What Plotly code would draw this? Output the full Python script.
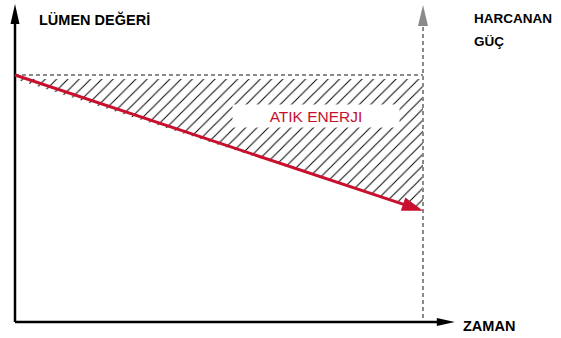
import math
import plotly.graph_objects as go

# ---- data ----
time = [0, 10]                 # start / end of life (ZAMAN)
lumen_actual = [100, 45]       # actual lumen (declining)
lumen_constant = [100, 100]    # constant power level
x_axis_end = 10.78             # x axis arrow tip
y_axis_end = 128.7             # y axis arrow tip

labels = {
    "y": "LÜMEN DEĞERİ",
    "y2a": "HARCANAN",
    "y2b": "GÜÇ",
    "x": "ZAMAN",
    "area": "ATIK ENERJI",
}

W, H = 561, 338
X0PX, XSCALE = 15, 40.8
Y0PX, YSCALE = 322, 2.47
xr = [(0 - X0PX) / XSCALE, (W - X0PX) / XSCALE]
yr = [(Y0PX - H) / YSCALE, Y0PX / YSCALE]

RED = "#c8102e"
GREY = "#8a8a8a"
FONT = "Liberation Sans, Arial, sans-serif"

fig = go.Figure()

# hatched wasted-energy area (kept a few pixels below the dashed level)
gap = 4 / YSCALE
fig.add_trace(go.Scatter(
    x=[time[0], time[1], time[1], time[0]],
    y=[lumen_constant[0] - gap, lumen_constant[1] - gap, lumen_actual[1], lumen_actual[0] - gap],
    fill="toself", mode="none", fillcolor="rgba(0,0,0,0)",
    fillpattern=dict(shape="/", size=8, solidity=0.12, fgcolor="#000",
                     fgopacity=1, bgcolor="rgba(0,0,0,0)"),
    hoverinfo="skip", showlegend=False))

# dashed constant level
fig.add_trace(go.Scatter(x=time, y=lumen_constant, mode="lines",
                         line=dict(color=GREY, width=2, dash="4px,3px"),
                         hoverinfo="skip", showlegend=False))

# grey dashed vertical (power axis)
fig.add_trace(go.Scatter(x=[time[1], time[1]], y=[1.6, y_axis_end - 8.5], mode="lines",
                         line=dict(color=GREY, width=2, dash="4px,3px"),
                         hoverinfo="skip", showlegend=False))

# black axes
fig.add_trace(go.Scatter(x=[0, 0], y=[0, y_axis_end - 6], mode="lines",
                         line=dict(color="black", width=2.5),
                         hoverinfo="skip", showlegend=False))
fig.add_trace(go.Scatter(x=[0, x_axis_end - 0.35], y=[0, 0], mode="lines",
                         line=dict(color="black", width=2.5),
                         hoverinfo="skip", showlegend=False))

# red declining lumen line (shortened so the head ends on the tip)
dxp = (time[1] - time[0]) * XSCALE
dyp = (lumen_actual[0] - lumen_actual[1]) * YSCALE
L = math.hypot(dxp, dyp)
ux, uy = dxp / L, dyp / L  # screen direction (uy positive = downward)
back = 14
fig.add_trace(go.Scatter(
    x=[time[0], time[1] - back * ux / XSCALE],
    y=[lumen_actual[0], lumen_actual[1] + back * uy / YSCALE],
    mode="lines", line=dict(color=RED, width=3),
    hoverinfo="skip", showlegend=False))


def head(xa, ya, dirx, diry, length, half, color):
    """Arrowhead path in pixels relative to tip; dir in screen coords (y up)."""
    bx, by = -dirx * length, -diry * length
    px, py = -diry * half, dirx * half
    path = f"M0,0 L{bx + px:.2f},{by + py:.2f} L{bx - px:.2f},{by - py:.2f} Z"
    return dict(type="path", xref="x", yref="y", xsizemode="pixel", ysizemode="pixel",
                xanchor=xa, yanchor=ya, path=path, fillcolor=color,
                line=dict(width=0), layer="above")


shapes = [
    head(0, y_axis_end, 0, 1, 20, 4.5, "black"),
    head(time[1], y_axis_end - 0.4, 0, 1, 21, 5, GREY),
    head(x_axis_end, 0, 1, 0, 18, 4, "black"),
    head(time[1], lumen_actual[1], ux, -uy, 21, 7, RED),
]

ann = [
    dict(x=37 / W, y=1 - 20 / H, xref="paper", yref="paper", text=labels["y"],
         showarrow=False, xanchor="left", yanchor="middle",
         font=dict(family=FONT, size=14.5, color="black", weight="bold")),
    dict(x=472 / W, y=1 - 19 / H, xref="paper", yref="paper", text=labels["y2a"],
         showarrow=False, xanchor="left", yanchor="middle",
         font=dict(family=FONT, size=13.5, color="black", weight="bold")),
    dict(x=472 / W, y=1 - 42 / H, xref="paper", yref="paper", text=labels["y2b"],
         showarrow=False, xanchor="left", yanchor="middle",
         font=dict(family=FONT, size=13.5, color="black", weight="bold")),
    dict(x=461 / W, y=1 - 326 / H, xref="paper", yref="paper", text=labels["x"],
         showarrow=False, xanchor="left", yanchor="middle",
         font=dict(family=FONT, size=14.5, color="black", weight="bold")),
    dict(x=316 / W, y=1 - 116 / H, xref="paper", yref="paper", text=labels["area"],
         showarrow=False, xanchor="center", yanchor="middle",
         width=160, height=16, bgcolor="white", borderpad=3,
         font=dict(family=FONT, size=15.5, color=RED)),
]

fig.update_layout(
    width=W, height=H, margin=dict(l=0, r=0, t=0, b=0),
    paper_bgcolor="white", plot_bgcolor="white",
    xaxis=dict(range=xr, visible=False, fixedrange=True),
    yaxis=dict(range=yr, visible=False, fixedrange=True),
    shapes=shapes, annotations=ann, showlegend=False,
)

fig.write_html(
    "out.html",
    config={"displayModeBar": False},
    post_script="document.body.style.margin='0';document.body.style.overflow='hidden';",
)
